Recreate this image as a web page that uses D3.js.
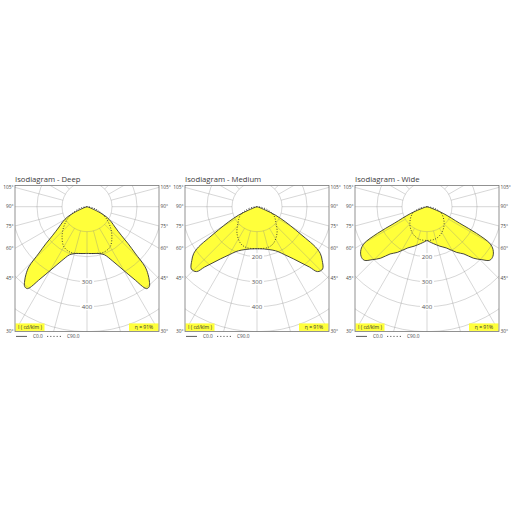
<!DOCTYPE html>
<html>
<head>
<meta charset="utf-8">
<script src="https://cdn.jsdelivr.net/npm/d3@7"></script>
<style>
  body { margin: 0; background: #fff; }
  text { font-family: "Open Sans", "DejaVu Sans", sans-serif; }
</style>
</head>
<body>
<svg id="chart" width="512" height="512"></svg>
<script>
// panel names
var panelNames = ["Deep", "Medium", "Wide"]

// C0.0 half curves (angle from nadir in degrees, cd/klm), mirrored for the other side
var deepC0Angles = [0, 5, 10, 15, 20, 25, 30, 33, 36, 38, 40, 42, 44, 46, 48, 50, 54, 58, 62, 66, 70, 75, 90]
var deepC0 = [187, 188, 190, 194, 205, 238, 295, 345, 405, 405, 388, 365, 335, 267, 222, 181, 138, 115, 90, 50, 15, 3, 0]
var mediumC0Angles = [0, 10, 20, 25, 30, 35, 38.5, 41, 43, 46.5, 50.5, 53.5, 55.5, 57, 59, 62, 65.5, 68, 72, 90]
var mediumC0 = [168, 172, 185, 198, 222, 255, 289, 320, 355, 362, 338, 315, 283, 231, 180, 128, 80, 36, 8, 0]
var wideC0Angles = [0, 5, 10, 18, 25, 33, 38, 42, 46, 49.5, 53, 57, 59.7, 61.7, 63.1, 67.6, 72, 90]
var wideC0 = [135, 142, 150, 166, 182, 218, 240, 277, 305, 330, 330, 315, 291, 225, 147, 70, 15, 0]

// C90.0 half curves
var deepC90Angles = [0, 10, 20, 30, 40, 50, 60, 70, 80, 90]
var deepC90 = [187, 190, 194, 185, 155, 120, 85, 50, 22, 0]
var mediumC90Angles = [0, 14, 24, 37, 49, 63, 75, 85, 90]
var mediumC90 = [168, 169, 161, 133, 101, 75, 40, 12, 0]
var wideC90Angles = [0, 13.5, 28.5, 45, 65, 78, 90]
var wideC90 = [135, 134, 121, 97, 64, 30, 0]

// grid
var circleValues = [100, 200, 300, 400, 500, 600]
var radiusLabels = [200, 300, 400]
var sideAngles = [105, 90, 75, 60, 45, 30]
var efficiency = "η = 91%"
var unitLabel = "I ( cd/klm )"
var legendNames = ["C0.0", "C90.0"]

var c0Sets = [[deepC0Angles, deepC0], [mediumC0Angles, mediumC0], [wideC0Angles, wideC0]]
var c90Sets = [[deepC90Angles, deepC90], [mediumC90Angles, mediumC90], [wideC90Angles, wideC90]]

var svg = d3.select("#chart"),
	pitch = 170, firstLeft = 15,
	hw = 72, cy = 206.7,
	boxTop = 185.5,
	boxBottom = cy + hw / Math.tan(30 * Math.PI / 180),
	yellow = "#ffff3a",
	ink = "#333",
	rad = Math.PI / 180

var r = d3.scaleLinear().domain([0, 100]).range([0, 25])

var halfLine = d3.line()
	.x(d => r(d.v) * Math.sin(d.a * rad))
	.y(d => r(d.v) * Math.cos(d.a * rad))
	.curve(d3.curveCatmullRom.alpha(0.5))

// closed outline built from a right-half set plus its mirror
var outline = set => {
	var right = set[0].map((a, i) => ({a: a, v: set[1][i]}))
	var left = right.map(d => ({a: -d.a, v: d.v})).reverse()
	return halfLine(left) + halfLine(right).replace(/^M/, "L") + "Z"
}

var sideY = a => a >= 90 ? cy - hw * Math.tan((a - 90) * rad) : cy + hw / Math.tan(a * rad)

panelNames.forEach((name, i) => {
	var left = firstLeft + i * pitch, cx = left + hw
	var g = svg.append("g")

	g.append("clipPath").attr("id", "clip" + i)
		.append("rect")
		.attr("x", left).attr("y", boxTop)
		.attr("width", 2 * hw).attr("height", boxBottom - boxTop)

	var inner = g.append("g").attr("clip-path", "url(#clip" + i + ")")
	var plot = inner.append("g").attr("transform", "translate(" + cx + "," + cy + ")")

	// yellow C0 area
	plot.append("path")
		.attr("d", outline(c0Sets[i]))
		.attr("fill", yellow)
		.attr("stroke", "none")

	// grid on top (semi transparent so it tints on yellow)
	var grid = plot.append("g")
		.attr("stroke", "#888")
		.attr("stroke-opacity", 0.42)
		.attr("stroke-width", 0.8)
		.attr("fill", "none")

	grid.selectAll("circle")
		.data(circleValues)
		.enter().append("circle")
		.attr("r", d => r(d))

	grid.selectAll("line")
		.data(d3.range(-180, 180, 15))
		.enter().append("line")
		.attr("x1", d => r(100) * Math.sin(d * rad))
		.attr("y1", d => r(100) * Math.cos(d * rad))
		.attr("x2", d => 300 * Math.sin(d * rad))
		.attr("y2", d => 300 * Math.cos(d * rad))

	// radius labels (hidden where yellow covers them)
	var nadir = c0Sets[i][1][0]
	var labels = plot.selectAll(".rl")
		.data(radiusLabels.filter(v => v - nadir > 16))
		.enter().append("g")
		.attr("transform", d => "translate(0," + r(d) + ")")
	labels.append("rect")
		.attr("x", -7).attr("y", -3.5).attr("width", 14).attr("height", 7)
		.attr("fill", "#fff")
	labels.append("text")
		.attr("text-anchor", "middle")
		.attr("dy", "0.35em")
		.attr("font-size", 6)
		.attr("fill", "#555")
		.text(d => d)

	// C0 outline
	plot.append("path")
		.attr("d", outline(c0Sets[i]))
		.attr("fill", "none")
		.attr("stroke", ink)
		.attr("stroke-width", 0.9)

	// C90 dotted
	plot.append("path")
		.attr("d", outline(c90Sets[i]))
		.attr("fill", "none")
		.attr("stroke", ink)
		.attr("stroke-width", 0.9)
		.attr("stroke-dasharray", "1,1.6")

	// info boxes
	g.append("rect")
		.attr("x", left + 0.5).attr("y", boxBottom - 8)
		.attr("width", 29).attr("height", 7.5)
		.attr("fill", yellow)
	g.append("text")
		.attr("x", left + 15).attr("y", boxBottom - 2.3)
		.attr("text-anchor", "middle")
		.attr("font-size", 5)
		.attr("fill", ink)
		.text(unitLabel)
	g.append("rect")
		.attr("x", left + 2 * hw - 30).attr("y", boxBottom - 8)
		.attr("width", 29.5).attr("height", 7.5)
		.attr("fill", yellow)
	g.append("text")
		.attr("x", left + 2 * hw - 15).attr("y", boxBottom - 2.3)
		.attr("text-anchor", "middle")
		.attr("font-size", 5)
		.attr("fill", ink)
		.text(efficiency)

	// frame
	g.append("rect")
		.attr("x", left).attr("y", boxTop)
		.attr("width", 2 * hw).attr("height", boxBottom - boxTop)
		.attr("fill", "none")
		.attr("stroke", "#777")
		.attr("stroke-width", 0.8)

	// side angle labels
	g.selectAll(".la")
		.data(sideAngles)
		.enter().append("text")
		.attr("x", left - 1.5)
		.attr("y", d => sideY(d))
		.attr("dy", "0.35em")
		.attr("text-anchor", "end")
		.attr("font-size", 4.8)
		.attr("fill", "#444")
		.text(d => d + "°")
	g.selectAll(".ra")
		.data(sideAngles)
		.enter().append("text")
		.attr("x", left + 2 * hw + 1.5)
		.attr("y", d => sideY(d))
		.attr("dy", "0.35em")
		.attr("font-size", 4.8)
		.attr("fill", "#444")
		.text(d => d + "°")

	// title
	g.append("text")
		.attr("x", left).attr("y", boxTop - 3.5)
		.attr("font-size", 7.7)
		.attr("fill", "#3a3a3a")
		.text("Isodiagram - " + name)

	// legend
	var ly = boxBottom + 5
	g.append("line")
		.attr("x1", left + 1).attr("x2", left + 12)
		.attr("y1", ly).attr("y2", ly)
		.attr("stroke", ink).attr("stroke-width", 0.8)
	g.append("text")
		.attr("x", left + 18).attr("y", ly).attr("dy", "0.35em")
		.attr("font-size", 4.8).attr("fill", "#444")
		.text(legendNames[0])
	g.append("line")
		.attr("x1", left + 32).attr("x2", left + 46)
		.attr("y1", ly).attr("y2", ly)
		.attr("stroke", ink).attr("stroke-width", 0.8)
		.attr("stroke-dasharray", "1.2,2")
	g.append("text")
		.attr("x", left + 52).attr("y", ly).attr("dy", "0.35em")
		.attr("font-size", 4.8).attr("fill", "#444")
		.text(legendNames[1])
})
</script>
</body>
</html>
